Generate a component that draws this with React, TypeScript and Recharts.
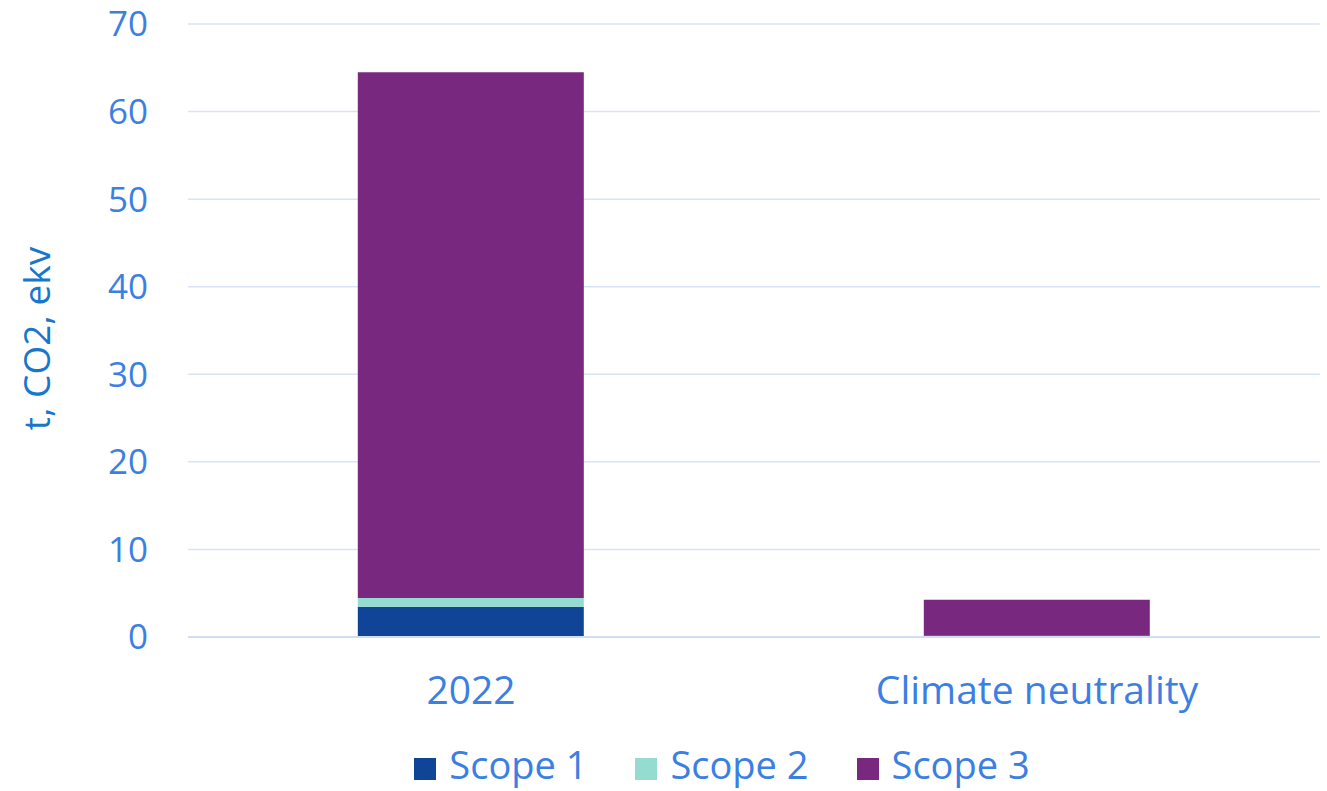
import { BarChart, Bar, XAxis, YAxis, CartesianGrid, Legend } from "recharts";

const categories = ["2022", "Climate neutrality"];
const scope1 = [3.45, 0.2];
const scope2 = [1.0, 0];
const scope3 = [60.05, 4.05];
const yTicks = [0, 10, 20, 30, 40, 50, 60, 70];

const data = categories.map((name, i) => ({
    name,
    scope1: scope1[i],
    scope2: scope2[i],
    scope3: scope3[i]
}));

const font = "'Open Sans', sans-serif";
const tickBlue = "#3b7fe3";

export default function App() {
    return (
        <div style={{ position: "absolute", left: 0, top: 0, width: 1327, height: 791, background: "#fff", overflow: "hidden" }}>
            <BarChart
                width={1327}
                height={791}
                data={data}
                margin={{ top: 24, right: 7, left: 0, bottom: 28 }}
                barCategoryGap="30%"
            >
                <CartesianGrid vertical={false} stroke="#d7e3f6" strokeWidth={1.5} />
                <XAxis
                    dataKey="name"
                    height={80}
                    tickLine={false}
                    axisLine={{ stroke: "#d0ddf4", strokeWidth: 2 }}
                    tickMargin={33}
                    tick={{ fill: tickBlue, fontSize: 39, fontFamily: font }}
                />
                <YAxis
                    width={188}
                    domain={[0, 70]}
                    ticks={yTicks}
                    tickLine={false}
                    axisLine={false}
                    tickSize={0}
                    tickMargin={40}
                    tick={{ fill: tickBlue, fontSize: 35, fontFamily: font }}
                    label={{
                        value: "t, CO2, ekv",
                        angle: -90,
                        position: "center",
                        dx: -57,
                        dy: 8,
                        style: { fill: "#1677cc", fontSize: 37, fontFamily: font, textAnchor: "middle" }
                    }}
                />
                <Legend
                    verticalAlign="bottom"
                    height={46}
                    iconType="square"
                    iconSize={22}
                    wrapperStyle={{ fontFamily: font, fontSize: 38, lineHeight: "46px", color: tickBlue, top: 741, height: 46, left: 86 }}
                    formatter={(value) => <span style={{ color: tickBlue, marginLeft: 9, marginRight: 38 }}>{value}</span>}
                />
                <Bar dataKey="scope1" name="Scope 1" stackId="a" fill="#0f4496" isAnimationActive={false} />
                <Bar dataKey="scope2" name="Scope 2" stackId="a" fill="#94dccf" isAnimationActive={false} />
                <Bar dataKey="scope3" name="Scope 3" stackId="a" fill="#78287e" isAnimationActive={false} />
            </BarChart>
        </div>
    );
}
